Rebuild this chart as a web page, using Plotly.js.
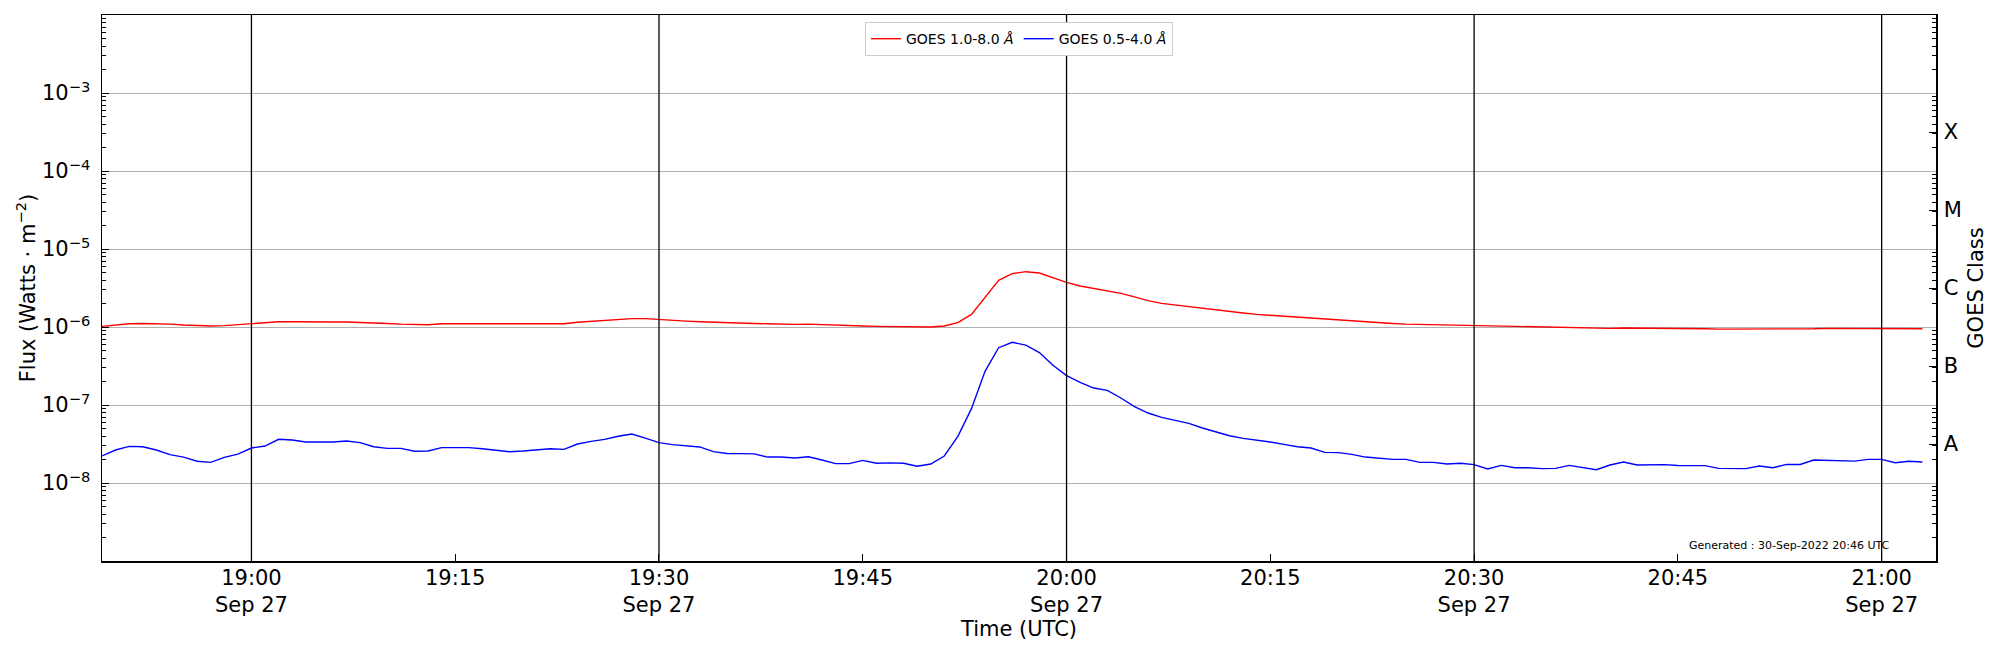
<!DOCTYPE html>
<html>
<head>
<meta charset="utf-8">
<script src="https://cdn.plot.ly/plotly-3.0.1.min.js"></script>
<style>
  html, body { margin: 0; padding: 0; background: #fff; }
  #chart { width: 2000px; height: 650px; }
</style>
</head>
<body>
<div id="chart"></div>
<script>
// one-minute GOES XRS averages, 18:49 to 21:03 UTC, 27 Sep 2022
const startUTC = Date.UTC(2022, 8, 27, 18, 49);

// 1.0-8.0 A channel, units of 1e-6 W/m^2
const longFlux = [
  1.02, 1.07, 1.10, 1.11, 1.11, 1.09, 1.06, 1.04, 1.03, 1.04,
  1.07, 1.10, 1.14, 1.17, 1.17, 1.16, 1.16, 1.16, 1.16, 1.15,
  1.13, 1.11, 1.09, 1.07, 1.07, 1.10, 1.10, 1.10, 1.09, 1.09,
  1.08, 1.08, 1.08, 1.08, 1.10, 1.15, 1.18, 1.21, 1.24, 1.28,
  1.28, 1.24, 1.22, 1.19, 1.17, 1.15, 1.13, 1.12, 1.11, 1.10,
  1.08, 1.08, 1.09, 1.07, 1.05, 1.04, 1.03, 1.02, 1.01, 1.00,
  0.99, 1.00, 1.03, 1.14, 1.45, 2.40, 3.96, 4.83, 5.12, 4.92,
  4.29, 3.74, 3.36, 3.10, 2.92, 2.70, 2.43, 2.18, 2.01, 1.91,
  1.84, 1.75, 1.67, 1.59, 1.51, 1.45, 1.41, 1.38, 1.34, 1.30,
  1.27, 1.23, 1.20, 1.16, 1.14, 1.11, 1.09, 1.08, 1.07, 1.06,
  1.05, 1.03, 1.02, 1.02, 1.01, 1.00, 0.99, 0.98, 0.97, 0.96,
  0.95, 0.96, 0.97, 0.97, 0.95, 0.95, 0.95, 0.95, 0.95, 0.94,
  0.94, 0.93, 0.93, 0.93, 0.93, 0.94, 0.95, 0.96, 0.96, 0.96,
  0.96, 0.96, 0.96, 0.96, 0.95
];

// 0.5-4.0 A channel, units of 1e-8 W/m^2
const shortFlux = [
  2.22, 2.65, 2.95, 2.92, 2.65, 2.31, 2.15, 1.90, 1.84, 2.13,
  2.35, 2.81, 2.98, 3.63, 3.56, 3.36, 3.36, 3.36, 3.45, 3.29,
  2.92, 2.78, 2.78, 2.55, 2.57, 2.84, 2.84, 2.84, 2.75, 2.62,
  2.52, 2.57, 2.65, 2.75, 2.70, 3.16, 3.42, 3.63, 3.97, 4.25,
  3.77, 3.29, 3.10, 3.01, 2.90, 2.52, 2.39, 2.38, 2.36, 2.15,
  2.15, 2.09, 2.17, 1.97, 1.77, 1.77, 1.95, 1.79, 1.81, 1.79,
  1.64, 1.75, 2.22, 3.97, 8.97, 27.0, 54.3, 63.6, 58.7, 47.0,
  32.3, 23.8, 19.5, 16.5, 15.4, 12.3, 9.53, 7.89, 6.95, 6.36,
  5.82, 5.07, 4.51, 4.04, 3.74, 3.56, 3.36, 3.13, 2.92, 2.81,
  2.47, 2.45, 2.33, 2.15, 2.09, 2.01, 2.01, 1.84, 1.84, 1.75,
  1.79, 1.72, 1.51, 1.68, 1.57, 1.57, 1.53, 1.54, 1.68, 1.57,
  1.48, 1.70, 1.86, 1.70, 1.70, 1.72, 1.68, 1.67, 1.67, 1.54,
  1.54, 1.53, 1.65, 1.57, 1.73, 1.73, 1.97, 1.95, 1.95, 1.91,
  2.01, 2.01, 1.82, 1.90, 1.86
];

const tickTimes = [
  '2022-09-27 19:00', '2022-09-27 19:15', '2022-09-27 19:30', '2022-09-27 19:45',
  '2022-09-27 20:00', '2022-09-27 20:15', '2022-09-27 20:30', '2022-09-27 20:45',
  '2022-09-27 21:00'
];
const tickLabels = [
  '19:00<br>Sep 27', '19:15', '19:30<br>Sep 27', '19:45',
  '20:00<br>Sep 27', '20:15', '20:30<br>Sep 27', '20:45', '21:00<br>Sep 27'
];
const markerTimes = ['2022-09-27 19:00', '2022-09-27 19:30', '2022-09-27 20:00',
  '2022-09-27 20:30', '2022-09-27 21:00'];

const fluxExponents = [-8, -7, -6, -5, -4, -3];
const classExponents = [-7.5, -6.5, -5.5, -4.5, -3.5];
const classLabels = ['A', 'B', 'C', 'M', 'X'];
const minorDecades = [-9, -8, -7, -6, -5, -4, -3];
const minorSteps = [2, 3, 4, 5, 6, 7, 8, 9];

function stamp(i) {
  const iso = new Date(startUTC + i * 60000).toISOString();
  return iso.slice(0, 16).replace('T', ' ');
}
const times = longFlux.map((_, i) => stamp(i));

const minorVals = [];
minorDecades.forEach(d => minorSteps.forEach(s => minorVals.push(s * Math.pow(10, d))));

const font = {family: 'DejaVu Sans, sans-serif', size: 21, color: '#000'};

// invisible trace so an extra axis gets drawn
function holder(axis) {
  return {x: [times[0]], y: [1e-6], yaxis: axis, type: 'scatter', mode: 'markers',
    marker: {opacity: 0}, showlegend: false, hoverinfo: 'skip'};
}

const traces = [
  {
    x: times, y: longFlux.map(v => v * 1e-6),
    type: 'scatter', mode: 'lines', name: 'GOES 1.0-8.0 <i>Å</i>',
    line: {color: '#ff0000', width: 1.4}
  },
  {
    x: times, y: shortFlux.map(v => v * 1e-8),
    type: 'scatter', mode: 'lines', name: 'GOES 0.5-4.0 <i>Å</i>',
    line: {color: '#0000ff', width: 1.4}
  },
  holder('y2'), holder('y3'), holder('y4')
];

const minorAxis = side => ({
  type: 'log', range: [-9, -2], overlaying: 'y', side: side,
  tickmode: 'array', tickvals: minorVals, showticklabels: false,
  ticks: 'inside', ticklen: 4, tickcolor: '#000', tickwidth: 1,
  showgrid: false, zeroline: false, showline: false
});

const layout = {
  width: 2000, height: 650,
  margin: {l: 102, r: 64, t: 15, b: 89},
  paper_bgcolor: '#fff', plot_bgcolor: '#fff',
  font: font,
  showlegend: true,
  legend: {
    orientation: 'h', x: 0.5, xanchor: 'center', y: 0.987, yanchor: 'top',
    bgcolor: '#fff', bordercolor: '#cccccc', borderwidth: 1,
    font: {family: 'DejaVu Sans, sans-serif', size: 14, color: '#000'}
  },
  xaxis: {
    type: 'date',
    range: ['2022-09-27 18:49', '2022-09-27 21:04'],
    tickmode: 'array', tickvals: tickTimes, ticktext: tickLabels,
    ticks: 'inside', ticklen: 7, tickcolor: '#000', tickwidth: 1,
    showgrid: false, zeroline: false,
    showline: true, linecolor: '#000', linewidth: 1.5, mirror: true,
    ticklabelstandoff: -3,
    title: {text: 'Time (UTC)', font: font, standoff: 0},
    tickfont: font
  },
  yaxis: {
    type: 'log', range: [-9, -2],
    tickmode: 'array',
    tickvals: fluxExponents.map(e => Math.pow(10, e)),
    ticktext: fluxExponents.map(e => '10<sup>\u2212' + (-e) + '</sup>'),
    ticks: 'inside', ticklen: 7, tickcolor: '#000', tickwidth: 1,
    showgrid: true, gridcolor: '#b0b0b0', gridwidth: 1,
    zeroline: false,
    showline: true, linecolor: '#000', linewidth: 1.5,
    ticklabelstandoff: 6,
    title: {text: 'Flux (Watts \u00b7 m<sup>\u22122</sup>)', font: font},
    tickfont: font
  },
  yaxis2: {
    type: 'log', range: [-9, -2], overlaying: 'y', side: 'right',
    tickmode: 'array',
    tickvals: classExponents.map(e => Math.pow(10, e)),
    ticktext: classLabels,
    ticks: 'inside', ticklen: 7, tickcolor: '#000', tickwidth: 1,
    showgrid: false, zeroline: false,
    showline: true, linecolor: '#000', linewidth: 1.5,
    ticklabelstandoff: 2,
    title: {text: 'GOES Class', font: font, standoff: 7},
    tickfont: font
  },
  yaxis3: minorAxis('left'),
  yaxis4: minorAxis('right'),
  shapes: markerTimes.map(t => ({
    type: 'line', xref: 'x', yref: 'paper', x0: t, x1: t, y0: 0, y1: 1,
    line: {color: '#000', width: 1.3}, layer: 'above'
  })),
  annotations: [{
    text: 'Generated : 30-Sep-2022 20:46 UTC',
    xref: 'paper', yref: 'paper', x: 0.976, y: 0.029,
    xanchor: 'right', yanchor: 'middle', showarrow: false,
    font: {family: 'DejaVu Sans, sans-serif', size: 11, color: '#000'}
  }]
};

Plotly.newPlot('chart', traces, layout, {staticPlot: true, displayModeBar: false});
</script>
</body>
</html>
